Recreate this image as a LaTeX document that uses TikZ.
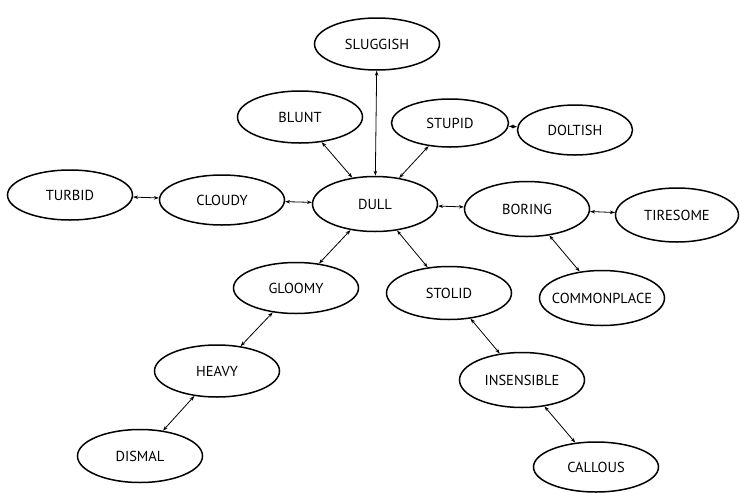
\documentclass[tikz,border=0pt]{standalone}
\usepackage{fontspec}
\setmainfont{PT Sans}
\usetikzlibrary{shapes.geometric,arrows.meta}
\begin{document}
\begin{tikzpicture}[x=1pt,y=-1pt,
  word/.style={ellipse,draw,line width=1.5pt,inner sep=0pt,minimum width=125pt,minimum height=52pt,font=\fontsize{14.5}{15}\selectfont},
  link/.style={line width=0.8pt,{Stealth[length=5pt,width=3.5pt]}-{Stealth[length=5pt,width=3.5pt]}}]
\useasboundingbox (0,0) rectangle (740,493);
\node[word] (sluggish) at (377,44) {SLUGGISH};
\node[word] (blunt) at (300,117) {BLUNT};
\node[word,minimum width=117pt,minimum height=48pt] (stupid) at (450,123) {STUPID};
\node[word,minimum width=115pt,minimum height=50pt] (doltish) at (575,130) {DOLTISH};
\node[word,minimum height=50pt] (turbid) at (70,195) {TURBID};
\node[word,minimum height=50pt] (cloudy) at (222,200) {CLOUDY};
\node[word,minimum width=125pt,minimum height=55pt] (dull) at (375,204) {DULL};
\node[word,minimum height=55pt] (boring) at (527,209) {BORING};
\node[word,minimum width=123pt,minimum height=54pt] (tiresome) at (677,215) {TIRESOME};
\node[word,minimum height=55pt] (common) at (602,298) {\makebox[0pt]{COMMONPLACE}};
\node[word,minimum height=53pt] (stolid) at (449,293) {STOLID};
\node[word,minimum height=51pt] (gloomy) at (296,288) {GLOOMY};
\node[word] (heavy) at (217,371) {HEAVY};
\node[word,minimum height=53pt] (dismal) at (140,456) {DISMAL};
\node[word,minimum height=55pt] (insensible) at (522,380) {INSENSIBLE};
\node[word,minimum height=50pt] (callous) at (596,467) {CALLOUS};
\draw[link] (sluggish) -- (dull);
\draw[link] (blunt) -- (dull);
\draw[link] (stupid) -- (dull);
\draw[link] (doltish) -- (stupid);
\draw[link] (turbid) -- (cloudy);
\draw[link] (cloudy) -- (dull);
\draw[link] (dull) -- (boring);
\draw[link] (boring) -- (tiresome);
\draw[link] (boring) -- (common);
\draw[link] (dull) -- (gloomy);
\draw[link] (dull) -- (stolid);
\draw[link] (gloomy) -- (heavy);
\draw[link] (heavy) -- (dismal);
\draw[link] (stolid) -- (insensible);
\draw[link] (insensible) -- (callous);
\end{tikzpicture}
\end{document}
